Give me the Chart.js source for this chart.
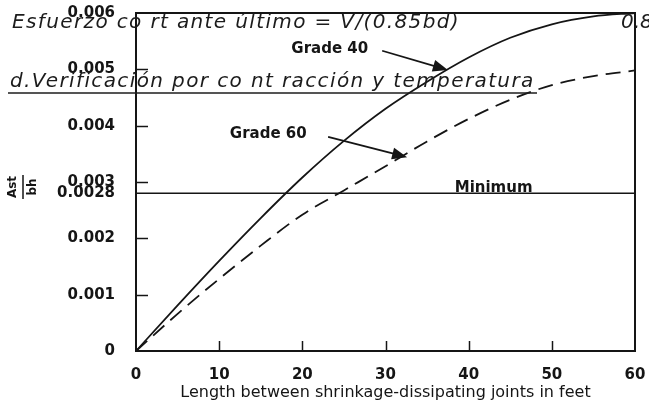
<!DOCTYPE html>
<html>
<head>
<meta charset="utf-8">
<script src="https://cdn.jsdelivr.net/npm/chart.js@4.4.1/dist/chart.umd.min.js"></script>
<style>
  html, body { margin: 0; padding: 0; background: #fff; }
  #wrap { width: 649px; height: 402px; }
</style>
</head>
<body>
<div id="wrap"><canvas id="chart" width="649" height="402"></canvas></div>
<script>
// values
const lengths = [0, 5, 10, 15, 20, 25, 30, 35, 40, 45, 50, 55, 60];
const grade40 = [0, 0.00081, 0.00160, 0.00236, 0.00308, 0.00373, 0.00430, 0.00478, 0.00521, 0.00556, 0.00580, 0.00594, 0.00600];
const grade60 = [0, 0.00066, 0.00128, 0.00187, 0.00242, 0.00285, 0.00328, 0.00372, 0.00412, 0.00446, 0.00472, 0.00488, 0.00498];
const minimumRatio = 0.0028;
const yTicks = [0, 0.001, 0.002, 0.0028, 0.003, 0.004, 0.005, 0.006];
const xTicks = [0, 10, 20, 30, 40, 50, 60];
const xTitle = 'Length between shrinkage-dissipating joints in feet';
const overlayLine1 = 'Esfuerzo co rt ante último = V/(0.85bd)';
const overlayLine1End = '0.8';
const overlayLine2 = 'd.Verificación por co nt racción y temperatura';

const ink = '#151515';
const tickFont = { family: 'DejaVu Sans', size: 15, weight: 'bold' };

const toPoints = (ys) => lengths.map((x, i) => ({ x: x, y: ys[i] }));

// arrow with a filled head, coordinates in data units
function arrow(ctx, xs, ys, from, to) {
  const x1 = xs.getPixelForValue(from[0]), y1 = ys.getPixelForValue(from[1]);
  const x2 = xs.getPixelForValue(to[0]), y2 = ys.getPixelForValue(to[1]);
  const ang = Math.atan2(y2 - y1, x2 - x1);
  const head = 15, half = 6;
  ctx.beginPath();
  ctx.moveTo(x1, y1);
  ctx.lineTo(x2 - Math.cos(ang) * head * 0.8, y2 - Math.sin(ang) * head * 0.8);
  ctx.stroke();
  ctx.beginPath();
  ctx.moveTo(x2, y2);
  ctx.lineTo(x2 - Math.cos(ang) * head - Math.sin(ang) * half, y2 - Math.sin(ang) * head + Math.cos(ang) * half);
  ctx.lineTo(x2 - Math.cos(ang) * head + Math.sin(ang) * half, y2 - Math.sin(ang) * head - Math.cos(ang) * half);
  ctx.closePath();
  ctx.fill();
}

// stretch text with letter spacing so it spans a given width
function spacedText(ctx, text, x, y, width) {
  ctx.letterSpacing = '0px';
  const w = ctx.measureText(text).width;
  ctx.letterSpacing = ((width - w) / text.length) + 'px';
  ctx.fillText(text, x, y);
  ctx.letterSpacing = '0px';
}

const figurePlugin = {
  id: 'figure',
  afterDatasetsDraw(chart) {
    const ctx = chart.ctx;
    const { left, right, top, bottom } = chart.chartArea;
    const xs = chart.scales.x, ys = chart.scales.y;
    ctx.save();
    ctx.strokeStyle = ink;
    ctx.fillStyle = ink;

    // frame
    ctx.lineWidth = 2;
    ctx.strokeRect(left, top, right - left, bottom - top);

    // inward tick marks
    ctx.lineWidth = 1.5;
    yTicks.forEach(v => {
      if (v <= 0 || v >= 0.006 || v === minimumRatio) return;
      const py = Math.round(ys.getPixelForValue(v)) + 0.5;
      ctx.beginPath(); ctx.moveTo(left, py); ctx.lineTo(left + 12, py); ctx.stroke();
    });
    xTicks.forEach(v => {
      if (v <= 0 || v >= 60) return;
      const px = Math.round(xs.getPixelForValue(v)) + 0.5;
      ctx.beginPath(); ctx.moveTo(px, bottom); ctx.lineTo(px, bottom - 10); ctx.stroke();
    });

    // labels and arrows
    ctx.font = 'bold 15px "DejaVu Sans"';
    ctx.textAlign = 'center';
    ctx.textBaseline = 'middle';
    ctx.fillText('Grade 40', xs.getPixelForValue(23.3), ys.getPixelForValue(0.00536));
    ctx.fillText('Grade 60', xs.getPixelForValue(15.9), ys.getPixelForValue(0.00385));
    ctx.fillText('Minimum', xs.getPixelForValue(43.0), ys.getPixelForValue(0.00289));
    ctx.lineWidth = 1.8;
    arrow(ctx, xs, ys, [29.6, 0.00533], [37.5, 0.00499]);
    arrow(ctx, xs, ys, [23.1, 0.00380], [32.6, 0.00344]);

    // y title: Ast / bh as a rotated fraction
    ctx.save();
    ctx.translate(23, 187);
    ctx.rotate(-Math.PI / 2);
    ctx.font = 'bold 12px "DejaVu Sans"';
    ctx.fillText('Ast', 0, -10);
    ctx.fillText('bh', 0, 10);
    ctx.lineWidth = 1.5;
    ctx.beginPath(); ctx.moveTo(-12, 0); ctx.lineTo(12, 0); ctx.stroke();
    ctx.restore();
    ctx.restore();
  },
  afterDraw(chart) {
    // text of the surrounding document printed over the figure
    const ctx = chart.ctx;
    ctx.save();
    ctx.fillStyle = '#1c1c1c';
    ctx.strokeStyle = '#1c1c1c';
    ctx.font = 'italic 200 20px "DejaVu Sans"';
    ctx.textAlign = 'left';
    ctx.textBaseline = 'alphabetic';
    spacedText(ctx, overlayLine1, 12, 28, 448);
    ctx.fillText(overlayLine1End, 621, 28);
    spacedText(ctx, overlayLine2, 10, 87, 525);
    ctx.lineWidth = 1.6;
    ctx.beginPath(); ctx.moveTo(8, 93); ctx.lineTo(537, 93); ctx.stroke();
    ctx.restore();
  }
};

new Chart(document.getElementById('chart'), {
  type: 'line',
  data: {
    datasets: [
      {
        label: 'Grade 40',
        data: toPoints(grade40),
        borderColor: ink,
        borderWidth: 1.8,
        pointRadius: 0,
        cubicInterpolationMode: 'monotone'
      },
      {
        label: 'Grade 60',
        data: toPoints(grade60),
        borderColor: ink,
        borderWidth: 1.8,
        borderDash: [15, 8],
        pointRadius: 0,
        cubicInterpolationMode: 'monotone'
      },
      {
        label: 'Minimum',
        data: [{ x: lengths[0], y: minimumRatio }, { x: lengths[lengths.length - 1], y: minimumRatio }],
        borderColor: ink,
        borderWidth: 1.5,
        pointRadius: 0
      }
    ]
  },
  options: {
    responsive: false,
    animation: false,
    clip: false,
    layout: { padding: { top: 13, right: 14, left: 0, bottom: 0 } },
    plugins: { legend: { display: false }, tooltip: { enabled: false } },
    scales: {
      x: {
        type: 'linear',
        min: 0,
        max: 60,
        afterFit: (s) => { s.height = 51; s.paddingLeft = 0; s.paddingRight = 0; },
        afterBuildTicks: (s) => { s.ticks = xTicks.map(v => ({ value: v })); },
        grid: { display: false, drawTicks: false },
        border: { display: false },
        ticks: { color: ink, font: tickFont, padding: 15, maxRotation: 0 },
        title: {
          display: true,
          text: xTitle,
          color: ink,
          font: { family: 'DejaVu Sans', size: 16 },
          padding: { top: 0, bottom: 0 }
        }
      },
      y: {
        min: 0,
        max: 0.006,
        afterFit: (s) => { s.width = 136; s.paddingTop = 0; s.paddingBottom = 0; },
        afterBuildTicks: (s) => { s.ticks = yTicks.map(v => ({ value: v })); },
        grid: { display: false, drawTicks: false },
        border: { display: false },
        ticks: {
          color: ink,
          font: tickFont,
          padding: 21,
          callback: (v) => String(v)
        }
      }
    }
  },
  plugins: [figurePlugin]
});
</script>
</body>
</html>
